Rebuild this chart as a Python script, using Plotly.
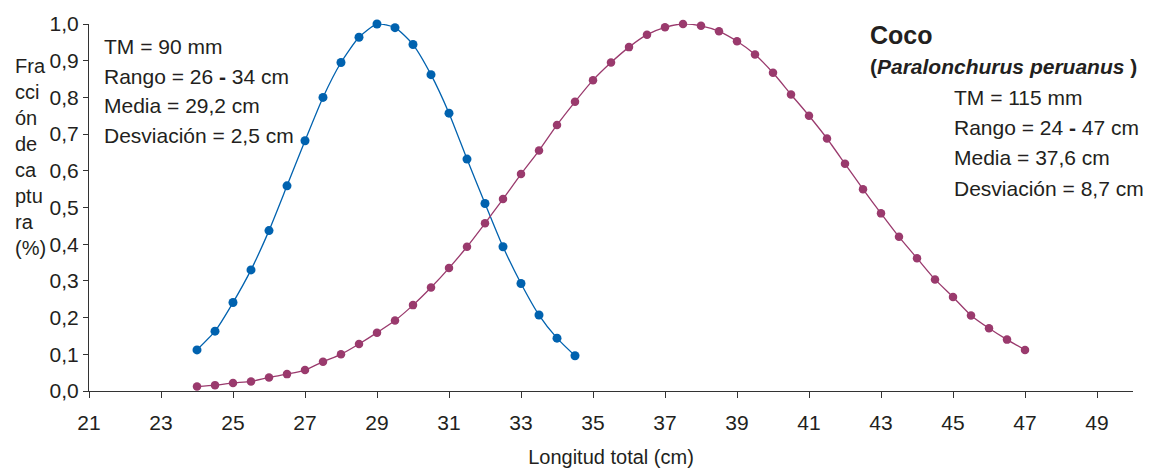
import plotly.graph_objects as go

# Blue series (TM = 90 mm)
x_blue = [24, 24.5, 25, 25.5, 26, 26.5, 27, 27.5, 28, 28.5, 29, 29.5, 30, 30.5,
          31, 31.5, 32, 32.5, 33, 33.5, 34, 34.5]
y_blue = [0.112, 0.163, 0.241, 0.330, 0.437, 0.559, 0.682, 0.800, 0.895, 0.964,
          1.000, 0.990, 0.944, 0.862, 0.757, 0.632, 0.511, 0.393, 0.293, 0.207,
          0.144, 0.096]

# Purple series (TM = 115 mm)
x_purple = [24, 24.5, 25, 25.5, 26, 26.5, 27, 27.5, 28, 28.5, 29, 29.5, 30, 30.5,
            31, 31.5, 32, 32.5, 33, 33.5, 34, 34.5, 35, 35.5, 36, 36.5, 37, 37.5,
            38, 38.5, 39, 39.5, 40, 40.5, 41, 41.5, 42, 42.5, 43, 43.5, 44, 44.5,
            45, 45.5, 46, 46.5, 47]
y_purple = [0.012, 0.016, 0.022, 0.026, 0.037, 0.046, 0.057, 0.080, 0.100, 0.128,
            0.159, 0.192, 0.234, 0.282, 0.335, 0.393, 0.457, 0.523, 0.591, 0.655,
            0.725, 0.788, 0.847, 0.895, 0.937, 0.971, 0.991, 1.000, 0.995, 0.980,
            0.953, 0.917, 0.867, 0.808, 0.750, 0.688, 0.619, 0.550, 0.484, 0.420,
            0.362, 0.304, 0.256, 0.206, 0.171, 0.140, 0.112]

x_ticks = [21, 23, 25, 27, 29, 31, 33, 35, 37, 39, 41, 43, 45, 47, 49]
y_ticks = [0.0, 0.1, 0.2, 0.3, 0.4, 0.5, 0.6, 0.7, 0.8, 0.9, 1.0]

BLUE = "#0062AF"
PURPLE = "#9A3A6D"
FONT = "Liberation Sans, Arial, sans-serif"
TXT = "#231F20"

# plot area in page pixels (page body has an 8px margin)
PL, PR, PT, PB = 89, 1133, 24, 391
PW, PH = PR - PL, PB - PT


def px(xp):
    return (xp - PL) / PW


def py(yp):
    return (PB - yp) / PH


fig = go.Figure()
fig.add_trace(go.Scatter(
    x=x_blue, y=y_blue, mode="lines+markers",
    line=dict(color=BLUE, width=1.3, shape="spline", smoothing=0.6),
    marker=dict(color=BLUE, size=9),
    cliponaxis=False, showlegend=False))
fig.add_trace(go.Scatter(
    x=x_purple, y=y_purple, mode="lines+markers",
    line=dict(color=PURPLE, width=1.3, shape="spline", smoothing=0.6),
    marker=dict(color=PURPLE, size=8.5),
    cliponaxis=False, showlegend=False))

fig.update_layout(
    width=1143, height=462,
    margin=dict(l=PL - 8, r=1143 - (PR - 8), t=PT - 8, b=462 - (PB - 8)),
    paper_bgcolor="white", plot_bgcolor="white",
    separators=",.",
    font=dict(family=FONT, size=20, color=TXT),
    xaxis=dict(
        range=[21, 50], tickvals=x_ticks, ticktext=[str(v) for v in x_ticks],
        showgrid=False, zeroline=False, showline=True, linecolor="#333333",
        linewidth=1.2, ticks="outside", ticklen=6, tickcolor="#333333",
        tickfont=dict(size=21, color=TXT), ticklabelstandoff=7,
        automargin=False,
        title=dict(text="Longitud total (cm)", font=dict(size=20, color=TXT),
                   standoff=16),
    ),
    yaxis=dict(
        range=[0, 1], tickvals=y_ticks, tickformat=".1f",
        showgrid=False, zeroline=False, showline=True, linecolor="#333333",
        linewidth=1.2, ticks="outside", ticklen=5, tickcolor="#333333",
        tickfont=dict(size=21, color=TXT), automargin=False,
    ),
)

# Y-axis title, wrapped
fig.add_annotation(
    xref="paper", yref="paper", x=px(13), y=py(157),
    xanchor="left", yanchor="middle", align="left", showarrow=False,
    text="Fra<br>cci<br>ón<br>de<br>ca<br>ptu<br>ra<br>(%)",
    font=dict(size=20, color=TXT))

left_lines = ["TM = 90 mm", "Rango = 26 <b>-</b> 34 cm", "Media = 29,2 cm",
              "Desviación = 2,5 cm"]
left_y = [46, 76, 105, 135]
for t, yp in zip(left_lines, left_y):
    fig.add_annotation(xref="paper", yref="paper", x=px(102), y=py(yp),
                       xanchor="left", yanchor="middle", showarrow=False,
                       text=t, font=dict(size=21, color=TXT))

fig.add_annotation(xref="paper", yref="paper", x=px(868), y=py(35),
                   xanchor="left", yanchor="middle", showarrow=False,
                   text="<b>Coco</b>", font=dict(size=25, color=TXT))
fig.add_annotation(xref="paper", yref="paper", x=px(868), y=py(66),
                   xanchor="left", yanchor="middle", showarrow=False,
                   text="<b>(<i>Paralonchurus peruanus</i> )</b>",
                   font=dict(size=21, color=TXT))

right_lines = ["TM = 115 mm", "Rango = 24 <b>-</b> 47 cm", "Media = 37,6 cm",
               "Desviación = 8,7 cm"]
right_y = [98, 128, 158, 188]
for t, yp in zip(right_lines, right_y):
    fig.add_annotation(xref="paper", yref="paper", x=px(952), y=py(yp),
                       xanchor="left", yanchor="middle", showarrow=False,
                       text=t, font=dict(size=21, color=TXT))

fig.write_html("out.html")
